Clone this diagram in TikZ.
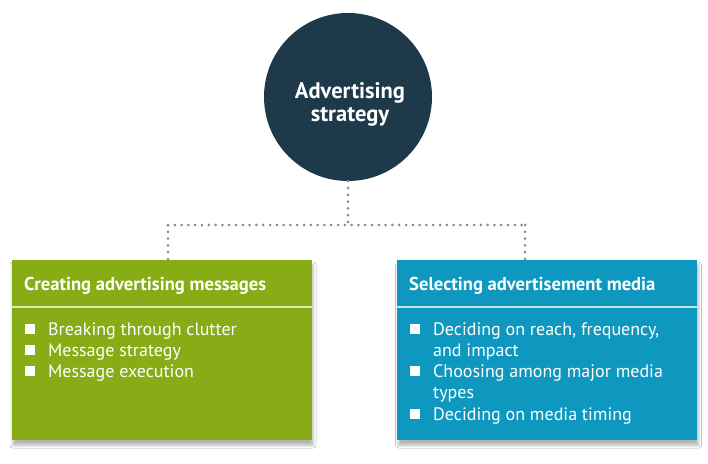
\documentclass[tikz,border=0pt]{standalone}
\usepackage{fontspec}
\setmainfont{PT Sans}
\usetikzlibrary{shadows.blur}
\definecolor{stratdark}{RGB}{30,58,74}
\definecolor{adgreen}{RGB}{135,172,22}
\definecolor{adblue}{RGB}{14,152,192}
\definecolor{sepgreen}{RGB}{222,236,170}
\definecolor{sepblue}{RGB}{190,230,242}
\definecolor{dotgray}{RGB}{140,140,146}

\newcommand{\bul}{\makebox[23pt][l]{\raisebox{1.5pt}{\rule{10pt}{10pt}}}}
\newcommand{\nob}{\hspace*{23pt}}

\begin{document}
\begin{tikzpicture}[x=1pt,y=-1pt,
  adbox/.style={rectangle,inner sep=0pt,minimum width=300pt,minimum height=180pt,
    blur shadow={shadow xshift=1.5pt,shadow yshift=-5pt,shadow blur radius=3pt,shadow opacity=30}},
  headtext/.style={text=white,font=\bfseries\fontsize{18.6}{20}\selectfont,inner sep=0pt},
  itemtext/.style={text=white,font=\fontsize{18}{21}\selectfont,inner sep=0pt},
  dotline/.style={dotgray,line width=3pt,dash pattern=on 0pt off 6.8pt,line cap=round}]
  \useasboundingbox (0,0) rectangle (708,463);
  \fill[white] (0,0) rectangle (708,463);

  % strategy circle
  \node[circle,fill=stratdark,minimum size=168pt,inner sep=0pt] (strat) at (348,97) {};
  \node[text=white,align=center,inner sep=0pt,
    font=\bfseries\fontsize{22.5}{23}\selectfont] (strattext) at (350,104)
    {Advertising\\strategy};

  % the two boxes
  \node[adbox,fill=adgreen] (create) at (161.5,350) {};
  \node[adbox,fill=adblue] (select) at (547,350) {};

  \coordinate (sep) at (0,307);
  \draw[sepgreen,line width=2pt] (create.west |- sep) -- (create.east |- sep);
  \draw[sepblue,line width=2pt] (select.west |- sep) -- (select.east |- sep);

  \node[headtext,anchor=base west] (createhead) at (24,290) {Creating advertising messages};
  \node[headtext,anchor=base west] (selecthead) at (409,290) {Selecting advertisement media};

  \foreach \txt [count=\i] in {{\bul Breaking through clutter},{\bul Message strategy},
      {\bul Message execution}}
    \node[itemtext,anchor=base west] (cl\i) at (25,335+21.3*\i-21.3) {\txt};
  \foreach \txt [count=\i] in {{\bul Deciding on reach, frequency,},{\nob and impact},
      {\bul Choosing among major media},{\nob types},{\bul Deciding on media timing}}
    \node[itemtext,anchor=base west] (sl\i) at (410,335+21.3*\i-21.3) {\txt};

  % dotted connectors
  \coordinate (hub) at (348,225);
  \coordinate (jl) at (168,225);
  \coordinate (jr) at (525,225);
  \draw[dotline] (strat.south) -- (hub);
  \draw[dotline] (jl) -- (jr);
  \draw[dotline] (jl) -- (jl |- create.north);
  \draw[dotline] (jr) -- (jr |- select.north);
\end{tikzpicture}
\end{document}
